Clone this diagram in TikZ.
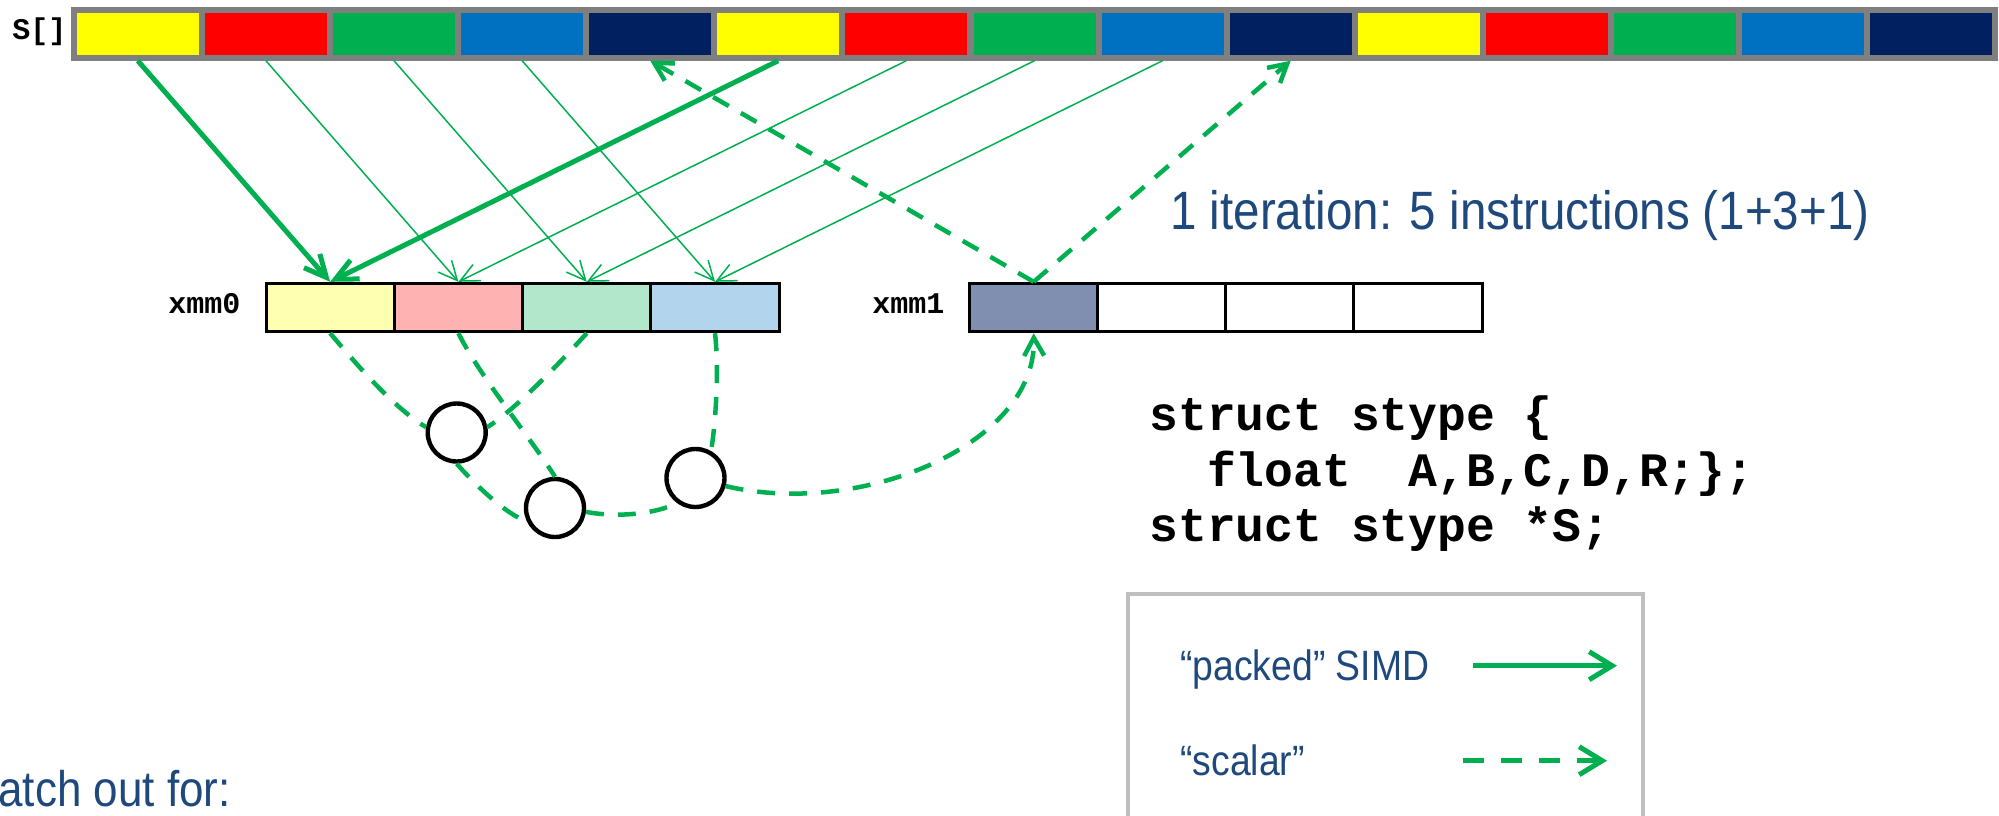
\documentclass[tikz,border=0pt]{standalone}
\usepackage{fontspec}
\usetikzlibrary{arrows.meta,calc}
\setmainfont{Liberation Sans}
\newfontfamily\sansn[FakeStretch=0.88]{Liberation Sans}
\newfontfamily\codef{Liberation Mono}
\definecolor{cY}{HTML}{FFFF00}
\definecolor{cR}{HTML}{FF0000}
\definecolor{cG}{HTML}{00B050}
\definecolor{cB}{HTML}{0070C0}
\definecolor{cN}{HTML}{002060}
\definecolor{grayB}{HTML}{7F7F7F}
\definecolor{lgray}{HTML}{BFBFBF}
\definecolor{txtblue}{HTML}{1F497D}
\begin{document}
\begin{tikzpicture}[x=0.5pt,y=-0.5pt,
  scell/.style={draw=grayB, line width=3pt, minimum width=64pt, minimum height=23.85pt, inner sep=0pt},
  reg/.style={draw=black, line width=1.5pt, minimum width=64.15pt, minimum height=24.2pt, inner sep=0pt},
  ring/.style={circle, draw=black, line width=2.2pt, minimum size=29pt, inner sep=0pt},
  simdthin/.style={draw=cG, line width=0.75pt, -{Straight Barb[length=9.5pt,width=9pt]}},
  simdthick/.style={draw=cG, line width=2.5pt, -{Straight Barb[length=11pt,width=10.5pt]}},
  scal/.style={draw=cG, line width=2.25pt, dash pattern=on 9pt off 7pt},
  scalarrow/.style={scal, -{Straight Barb[length=9pt,width=10pt]}},
  lbl/.style={font=\codef\bfseries\fontsize{15pt}{15pt}\selectfont, inner sep=0pt, anchor=base west},
  code/.style={font=\codef\bfseries\fontsize{24pt}{24pt}\selectfont, inner sep=0pt, anchor=base west},
  note/.style={text=txtblue, inner sep=0pt, anchor=base west},
]
\useasboundingbox (0,0) rectangle (1999,815);
\clip (0,0) rectangle (1999,815);

% S[] array
\foreach \i/\c in {0/cY,1/cR,2/cG,3/cB,4/cN,5/cY,6/cR,7/cG,8/cB,9/cN,10/cY,11/cR,12/cG,13/cB,14/cN}
  \node[scell, fill=\c] (s\i) at ({137.8+128.1*\i},33.85) {};
\node[lbl] (slbl) at (12,39) {S[]};

% registers
\foreach \i/\c in {0/cY,1/cR,2/cG,3/cB}
  \node[reg, fill=\c!30] (x\i) at ({330.15+128.3*\i},307.5) {};
\node[reg, fill=cN!50] (y0) at (1033.7,307.5) {};
\foreach \i in {1,2,3}
  \node[reg, fill=white] (y\i) at ({1033.7+128.1*\i},307.5) {};
\node[lbl] (xl0) at (168,313) {xmm0};
\node[lbl] (xl1) at (872,313) {xmm1};

% packed loads
\draw[simdthick] (s0.south) -- (x0.north);
\draw[simdthick] (s5.south) -- (x0.north);
\draw[simdthin] (s1.south) -- (x1.north);
\draw[simdthin] (s2.south) -- (x2.north);
\draw[simdthin] (s3.south) -- (x3.north);
\draw[simdthin] (s6.south) -- (x1.north);
\draw[simdthin] (s7.south) -- (x2.north);
\draw[simdthin] (s8.south) -- (x3.north);

% scalar stores
\draw[scalarrow] (y0.north) -- (s4.south);
\draw[scalarrow] (y0.north) -- (s9.south);

% circles
\node[ring] (c1) at (456.7,432.5) {};
\node[ring] (c2) at (555,508) {};
\node[ring] (c3) at (695.5,478) {};

\draw[scal] (x0.south) .. controls (357,365) and (394,408) .. (c1.170);
\draw[scal] (x2.south) .. controls (561.5,361) and (515,410) .. (c1.10);
\draw[scal] (x1.south) .. controls (478.8,375) and (533.4,441.7) .. (c2.90);
\draw[scal] (c1.270) .. controls (475.6,485.3) and (507,515) .. (c2.205);
\draw[scal] (c2.-7) .. controls (614.4,517.7) and (656.4,514.3) .. (c3.233);
\draw[scal] (x3.south) .. controls (719,370) and (716,420) .. (c3.60);
\draw[scalarrow] (c3.-15) .. controls (860,518) and (1036,445) .. (y0.south);

% texts
\node[note, font=\sansn\fontsize{27pt}{27pt}\selectfont] (iter) at (1170,229.5) {1 iteration: 5 instructions (1+3+1)};
\node[code] (l1) at (1149,430) {struct stype \{};
\node[code] (l2) at (1149,486.5) {\hphantom{ff}float\hphantom{ff}A,B,C,D,R;\};};
\node[code] (l3) at (1149,541.5) {struct stype *S;};
\node[note, font=\sansn\fontsize{25pt}{25pt}\selectfont] (watch) at (-42,806.7) {Watch out for:};

% legend
\draw[draw=lgray, line width=2pt] (1127.6,594) rectangle (1643.4,840);
\node[note, font=\sansn\fontsize{21.2pt}{21.2pt}\selectfont] (lp) at (1180,680) {“packed” SIMD};
\node[note, font=\sansn\fontsize{21.2pt}{21.2pt}\selectfont] (ls) at (1180,775) {“scalar”};
\coordinate (pa) at (1473,665.7);
\coordinate (pb) at (1617,665.7);
\coordinate (qa) at (1463,760.7);
\coordinate (qb) at (1607,760.7);
\draw[draw=cG, line width=2.5pt, -{Straight Barb[length=11.5pt,width=14pt]}] (pa) -- (pb);
\draw[draw=cG, line width=2.5pt, dash pattern=on 10.5pt off 8.5pt, -{Straight Barb[length=11.5pt,width=14pt]}] (qa) -- (qb);
\end{tikzpicture}
\end{document}
